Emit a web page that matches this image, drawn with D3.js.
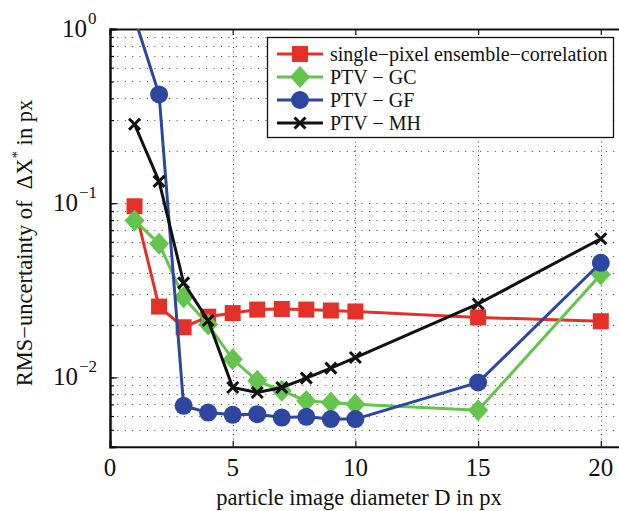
<!DOCTYPE html>
<html><head><meta charset="utf-8">
<script src="https://cdn.jsdelivr.net/npm/d3@7"></script>
<style>body{margin:0;background:#fff}svg{display:block}</style>
</head><body><svg id="c" width="619" height="511"></svg>
<script>
const xs = [1,2,3,4,5,6,7,8,9,10,15,20];
const sensemble = [0.096,0.0255,0.0194,0.0223,0.0234,0.0245,0.0247,0.0245,0.0242,0.0239,0.0221,0.0210];
const ptvGC = [0.0796,0.0585,0.0288,0.0201,0.0127,0.00955,0.00838,0.00733,0.00717,0.00702,0.00648,0.0389];
const ptvGF = [1.16,0.421,0.00687,0.00628,0.0061,0.00615,0.00588,0.00594,0.00576,0.00576,0.00935,0.0455];
const ptvMH = [0.284,0.1335,0.0349,0.0212,0.00875,0.00819,0.00875,0.0099,0.0113,0.0130,0.0264,0.0625];
const seriesNames = ["single\u2212pixel ensemble\u2212correlation","PTV \u2212 GC","PTV \u2212 GF","PTV \u2212 MH"];
const xTicks = [0,5,10,15,20];
const yMajor = [1,0.1,0.01];
const yExp = ["0","\u22121","\u22122"];

const series = [
  {name:seriesNames[0], v:sensemble, color:"#e3312a", marker:"square"},
  {name:seriesNames[1], v:ptvGC, color:"#63c54c", marker:"diamond"},
  {name:seriesNames[2], v:ptvGF, color:"#2d46a0", marker:"circle"},
  {name:seriesNames[3], v:ptvMH, color:"#111111", marker:"cross"}
];

const FF = "'Liberation Serif','Times New Roman','DejaVu Serif',serif";
const L=110, T=29, B=446.7, R=110+21*24.54;
const x = d3.scaleLinear().domain([0,21]).range([L,R]);
const y = d3.scaleLog().domain([0.004,1]).range([B,T]);
const svg = d3.select("#c").attr("font-family",FF);

svg.append("defs").append("clipPath").attr("id","clip")
  .append("rect").attr("x",L).attr("y",T).attr("width",R-L).attr("height",B-T);

// grid
const minorVals = [];
for (let e=-3;e<=-1;e++) for (let m=1;m<=9;m++){ const v=m*Math.pow(10,e); if(v>=0.004 && v<=1) minorVals.push(v);}
const g = svg.append("g");
g.selectAll(".hg").data(minorVals).join("line")
  .attr("x1",L).attr("x2",R).attr("y1",d=>Math.round(y(d))+0.5).attr("y2",d=>Math.round(y(d))+0.5)
  .attr("stroke","#444").attr("stroke-width",1).attr("stroke-dasharray","1,6.4");
g.selectAll(".vg").data(xTicks.slice(1)).join("line")
  .attr("x1",d=>Math.round(x(d))+0.5).attr("x2",d=>Math.round(x(d))+0.5).attr("y1",T).attr("y2",B)
  .attr("stroke","#444").attr("stroke-width",1).attr("stroke-dasharray","1,3.5");

// axes
const xb = svg.append("g").attr("transform",`translate(0,${B})`)
  .call(d3.axisBottom(x).tickValues(xTicks).tickSize(-6).tickFormat(""));
const xt = svg.append("g").attr("transform",`translate(0,${T})`)
  .call(d3.axisTop(x).tickValues(xTicks).tickSize(-6).tickFormat(""));
const yl = svg.append("g").attr("transform",`translate(${L},0)`)
  .call(d3.axisLeft(y).tickValues(yMajor).tickSize(-7).tickFormat(""));
const ylm = svg.append("g").attr("transform",`translate(${L},0)`)
  .call(d3.axisLeft(y).tickValues(minorVals).tickSize(-4).tickFormat(""));
[xb,xt,yl,ylm].forEach(a=>{a.select(".domain").attr("stroke","#111").attr("stroke-width",2); a.selectAll(".tick line").attr("stroke","#111").attr("stroke-width",1.2);});

function txt(sel){ return sel.attr("font-family",FF).attr("fill","#111"); }

// tick labels
txt(svg.selectAll(".xl").data(xTicks).join("text"))
  .attr("x",d=>x(d)).attr("y",B+29).attr("text-anchor","middle").attr("font-size",25).text(d=>d);
yMajor.forEach((v,i)=>{
  txt(svg.append("text")).attr("y",y(v)+8).attr("font-size",25).attr("text-anchor","end").attr("x",i==0?87:78).text("10");
  txt(svg.append("text")).attr("x",i==0?88:79).attr("y",y(v)-5).attr("font-size",17).text(yExp[i]);
});

// axis titles
txt(svg.append("text")).attr("x",359).attr("y",505).attr("text-anchor","middle").attr("font-size",22.5)
  .text("particle image diameter D in px");
const yt = txt(svg.append("text")).attr("transform","translate(32,243) rotate(-90)").attr("text-anchor","middle").attr("font-size",22.5);
yt.append("tspan").text("RMS\u2212uncertainty of \u00a0\u0394X");
yt.append("tspan").attr("dy",-10).attr("font-size",15).text("*");
yt.append("tspan").attr("dy",10).text(" in px");

// series
const plot = svg.append("g").attr("clip-path","url(#clip)");
const line = d3.line().x((d,i)=>x(xs[i])).y(d=>y(d));
function drawMarker(sel, type, color){
  if(type==="square") sel.append("rect").attr("x",-8).attr("y",-8).attr("width",16).attr("height",16).attr("fill",color);
  else if(type==="diamond") sel.append("path").attr("d","M0,-11L10,0L0,11L-10,0Z").attr("fill",color);
  else if(type==="circle") sel.append("circle").attr("r",9).attr("fill",color);
  else sel.append("path").attr("d","M-5.5,-5.5L5.5,5.5M-5.5,5.5L5.5,-5.5").attr("stroke",color).attr("stroke-width",3).attr("fill","none");
}
series.forEach(s=>{
  plot.append("path").datum(s.v).attr("d",line).attr("fill","none").attr("stroke",s.color).attr("stroke-width",3);
  s.v.forEach((v,i)=>{
    const m = plot.append("g").attr("transform",`translate(${x(xs[i])},${y(v)})`);
    drawMarker(m,s.marker,s.color);
  });
});

// legend
const lg = svg.append("g");
lg.append("rect").attr("x",267.5).attr("y",37.5).attr("width",346).attr("height",100).attr("fill","#fff").attr("stroke","#111").attr("stroke-width",1.3);
series.forEach((s,i)=>{
  const cy = 54+i*23;
  lg.append("line").attr("x1",277).attr("x2",323).attr("y1",cy).attr("y2",cy).attr("stroke",s.color).attr("stroke-width",3);
  const m = lg.append("g").attr("transform",`translate(300,${cy})`);
  drawMarker(m,s.marker,s.color);
  txt(lg.append("text")).attr("x",330).attr("y",cy+7).attr("font-size",20).text(s.name);
});
</script></body></html>
